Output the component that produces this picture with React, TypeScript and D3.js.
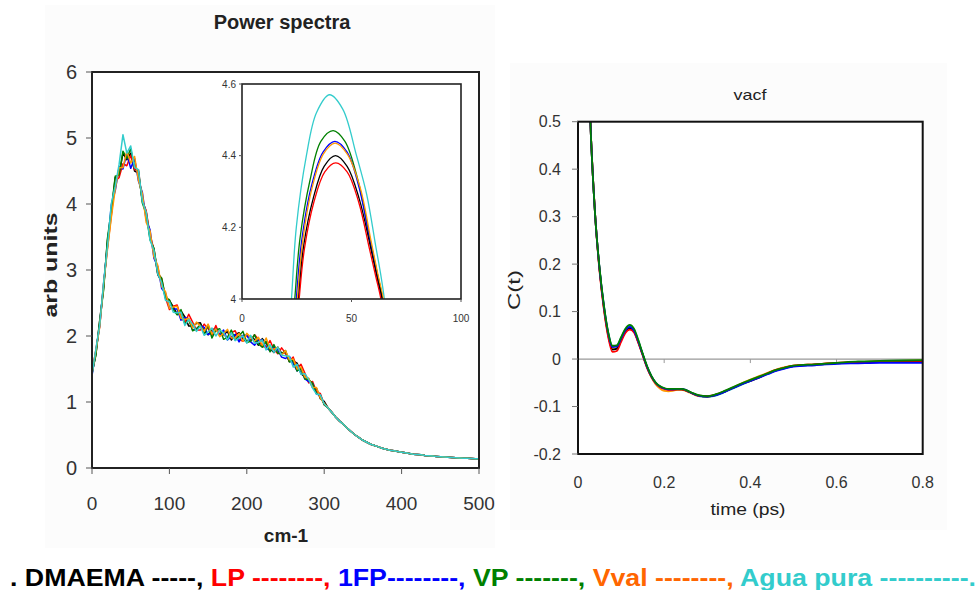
import React from 'react';
import * as d3 from 'd3';

// ---------- Series ----------
const SERIES_NAMES = ['DMAEMA', 'LP', '1FP', 'VP', 'Vval', 'Agua pura'];
const LINE_COLORS = ['#000000', '#ff0000', '#0000ff', '#008000', '#ff9900', '#33cccc'];
const LEGEND_COLORS = ['#000000', '#ff0000', '#0000ff', '#008000', '#ff6600', '#33cccc'];
const LEGEND_DASHES = ['-----,', '--------,', '--------,', '-------,', '--------,', '----------.'];

// ---------- Power spectra (main) ----------
const WAVENUMBER = d3.range(0, 501, 5);
const SPECTRUM_BASE = [
  1.43, 1.75, 2.2, 2.75, 3.4, 3.95, 4.3, 4.5, 4.65, 4.72, 4.68, 4.6, 4.4, 4.1, 3.8, 3.55, 3.25, 3.0, 2.78, 2.62,
  2.48, 2.42, 2.37, 2.31, 2.26, 2.21, 2.17, 2.14, 2.12, 2.1, 2.09, 2.07, 2.06, 2.05, 2.03, 2.02, 2.0, 1.99, 1.98, 1.97,
  1.96, 1.95, 1.94, 1.92, 1.9, 1.87, 1.84, 1.81, 1.78, 1.75, 1.71, 1.66, 1.6, 1.53, 1.47, 1.4, 1.32, 1.25, 1.17, 1.08,
  0.99, 0.91, 0.84, 0.77, 0.71, 0.66, 0.6, 0.55, 0.5, 0.46, 0.42, 0.39, 0.36, 0.34, 0.32, 0.3, 0.285, 0.27, 0.26, 0.25,
  0.24, 0.23, 0.22, 0.21, 0.205, 0.2, 0.19, 0.185, 0.18, 0.176, 0.172, 0.168, 0.164, 0.16, 0.156, 0.152, 0.149, 0.146, 0.144, 0.142,
  0.14,
];
// per-series deviations from the common curve, in hundredths (0..300 cm-1)
const DEV_DMAEMA = [0, -3, 4, -2, 5, -8, 10, -6, 12, -5, 9, -10, 7, -4, 8, -6, 5, -7, 4, -5, 6, 2, -4, 7, 3, -6, -2, 5, 8, -3, -7, 2, 6, -4, -1, 5, -6, 3, 7, -2, -5, 4, 1, -6, 6, 2, -3, -6, 5, -1, 4, -5, 2, 6, -4, -2, 3, -3, 4, -3, 2];
const DEV_LP = [2, 4, -5, 3, -6, -12, 5, -10, -4, -14, 6, -8, 12, -6, 10, -3, 7, -5, 9, -4, -8, 3, 10, -2, -6, 12, 4, -5, -3, 8, 2, -6, 10, -4, 1, -7, 5, 9, -3, -5, 6, -2, 8, 3, -6, -4, 9, -1, -5, 7, 3, -4, 8, -2, 10, 4, -3, 6, -2, 5, -3];
const DEV_1FP = [-3, 2, -4, 5, -3, 4, -10, 6, -12, 5, -14, 9, -5, 8, -4, 6, -7, 5, -6, 3, -5, -1, 4, -7, 2, 5, -8, -3, 4, 3, -7, -2, 5, -4, 6, -8, -1, 3, -7, 4, 5, -4, -8, 2, 4, -5, -6, 3, 1, -7, -5, 3, -2, -6, 4, -5, -1, 3, -5, 2, -2];
const DEV_VP = [1, -4, 3, -5, 8, -4, 12, -6, 15, -3, 16, -4, 10, -8, 5, -9, 8, -6, 10, -4, 7, -2, -5, 9, -8, 4, -9, -3, 5, -7, 8, -10, 3, 6, -8, -4, 9, -5, 2, 10, -6, -3, 8, -4, -7, 5, -8, 6, -4, -2, 7, -5, 3, -6, 4, -5, 2, 3, -4, 2, -3];
const DEV_VVAL = [0, 3, -6, 4, -9, -15, -8, 5, -10, 8, -6, 12, -4, 6, -8, 4, -5, 7, -3, 5, -6, 2, 8, -4, -1, 6, -5, 7, 3, -3, 9, -4, 5, -6, 1, 8, -3, -2, 6, -5, 8, 3, -2, 6, -4, 10, -3, -1, 5, -4, 7, -2, 5, -3, 6, -2, 4, -3, 5, -2, -1];
const DEV_AGUA = [-2, 5, -3, 6, -4, 6, -3, 10, 40, 5, 20, -5, 12, -6, 8, -10, 5, -6, 3, -8, 4, -6, -2, 5, -10, 4, 1, -7, 3, -9, -3, 5, -6, 4, 2, -8, 5, -6, -1, 3, -7, 6, -5, -2, 4, -8, 3, -6, 5, -4, -1, 3, -7, 4, -5, 3, 2, -4, -5, 3, -2];
const SPECTRUM_DEVS = [DEV_DMAEMA, DEV_LP, DEV_1FP, DEV_VP, DEV_VVAL, DEV_AGUA];
const MAIN_Y_TICKS = [0, 1, 2, 3, 4, 5, 6];
const MAIN_X_TICKS = [0, 100, 200, 300, 400, 500];

// ---------- Inset (peak zoom) ----------
const INSET_DMAEMA: [number, number][] = [[24.2, 3.88], [25.8, 4.0], [28.2, 4.15], [32.5, 4.28], [37.5, 4.37], [42.7, 4.4], [48, 4.37], [53.5, 4.28], [58.5, 4.15], [61.7, 4.06], [64, 4.0], [65.3, 3.93]];
const INSET_LP: [number, number][] = [[24.5, 3.88], [26.1, 4.0], [28.5, 4.14], [32.8, 4.27], [37.8, 4.355], [42.8, 4.38], [48, 4.355], [53.3, 4.27], [58.2, 4.14], [61.2, 4.06], [63.4, 4.0], [64.7, 3.93]];
const INSET_1FP: [number, number][] = [[23.2, 3.87], [24.8, 4.0], [27.2, 4.16], [31.5, 4.31], [37, 4.41], [42.4, 4.44], [48, 4.41], [53.5, 4.31], [58.5, 4.16], [61.5, 4.07], [63.7, 4.0], [65, 3.93]];
const INSET_VP: [number, number][] = [[22.5, 3.87], [24.1, 4.0], [26.5, 4.17], [31, 4.33], [36, 4.44], [41.6, 4.47], [47, 4.44], [53, 4.33], [58, 4.18], [61.5, 4.08], [64.2, 4.0], [65.5, 3.93]];
const INSET_VVAL: [number, number][] = [[23.7, 3.87], [25.3, 4.0], [27.7, 4.16], [32, 4.31], [37.2, 4.405], [42.5, 4.435], [48, 4.405], [54, 4.31], [59, 4.16], [62, 4.07], [64.5, 4.0], [65.8, 3.93]];
const INSET_AGUA: [number, number][] = [[21, 3.87], [22.6, 4.0], [24.8, 4.2], [29.4, 4.4], [34, 4.52], [40, 4.57], [46, 4.53], [52.3, 4.4], [57, 4.29], [61, 4.15], [63.3, 4.07], [65, 4.0], [66.3, 3.92]];
const INSET_SERIES = [INSET_DMAEMA, INSET_LP, INSET_1FP, INSET_VP, INSET_VVAL, INSET_AGUA];
const INSET_Y_TICKS = [4, 4.2, 4.4, 4.6];
const INSET_X_TICKS = [0, 50, 100];

// ---------- vacf ----------
const TIME_PS = [0, 0.01, 0.02, 0.03, 0.04, 0.05, 0.06, 0.07, 0.08, 0.09, 0.1, 0.11, 0.12, 0.13, 0.14, 0.15, 0.16, 0.17, 0.18, 0.19, 0.2, 0.21, 0.22, 0.23, 0.24, 0.25, 0.26, 0.27, 0.28, 0.3, 0.32, 0.34, 0.36, 0.38, 0.4, 0.42, 0.44, 0.46, 0.48, 0.5, 0.55, 0.6, 0.65, 0.7, 0.75, 0.8];
const VACF_DMAEMA = [1.0, 0.93, 0.72, 0.47, 0.3, 0.19, 0.11, 0.052, 0.02, 0.022, 0.04, 0.058, 0.065, 0.058, 0.036, 0.01, -0.016, -0.036, -0.05, -0.058, -0.062, -0.064, -0.064, -0.064, -0.064, -0.066, -0.07, -0.074, -0.077, -0.079, -0.076, -0.069, -0.061, -0.053, -0.046, -0.039, -0.031, -0.024, -0.019, -0.015, -0.012, -0.009, -0.007, -0.006, -0.005, -0.005];
const VACF_LP = [1.0, 0.93, 0.72, 0.47, 0.3, 0.185, 0.105, 0.047, 0.015, 0.017, 0.036, 0.055, 0.062, 0.056, 0.034, 0.008, -0.018, -0.037, -0.051, -0.059, -0.063, -0.065, -0.065, -0.064, -0.064, -0.066, -0.07, -0.074, -0.077, -0.078, -0.075, -0.068, -0.06, -0.052, -0.045, -0.038, -0.03, -0.023, -0.018, -0.014, -0.011, -0.008, -0.006, -0.005, -0.004, -0.004];
const VACF_1FP = [1.0, 0.93, 0.72, 0.47, 0.3, 0.19, 0.112, 0.055, 0.025, 0.026, 0.043, 0.061, 0.068, 0.06, 0.037, 0.01, -0.016, -0.036, -0.05, -0.058, -0.062, -0.064, -0.064, -0.063, -0.063, -0.065, -0.07, -0.074, -0.077, -0.079, -0.076, -0.069, -0.061, -0.053, -0.046, -0.039, -0.032, -0.025, -0.02, -0.016, -0.013, -0.01, -0.009, -0.008, -0.008, -0.008];
const VACF_VP = [1.0, 0.93, 0.72, 0.47, 0.3, 0.192, 0.114, 0.057, 0.028, 0.029, 0.046, 0.064, 0.072, 0.064, 0.04, 0.012, -0.014, -0.035, -0.049, -0.057, -0.061, -0.063, -0.063, -0.063, -0.063, -0.065, -0.069, -0.073, -0.076, -0.078, -0.074, -0.067, -0.059, -0.051, -0.044, -0.037, -0.03, -0.023, -0.018, -0.014, -0.011, -0.008, -0.005, -0.004, -0.003, -0.002];
const VACF_VVAL = [1.0, 0.93, 0.72, 0.47, 0.3, 0.188, 0.108, 0.05, 0.021, 0.022, 0.04, 0.059, 0.066, 0.059, 0.035, 0.009, -0.017, -0.038, -0.053, -0.062, -0.067, -0.068, -0.067, -0.065, -0.065, -0.067, -0.071, -0.075, -0.078, -0.079, -0.075, -0.068, -0.06, -0.051, -0.043, -0.036, -0.029, -0.022, -0.017, -0.014, -0.011, -0.008, -0.006, -0.005, -0.004, -0.003];
const VACF_AGUA = [1.0, 0.93, 0.72, 0.47, 0.3, 0.19, 0.113, 0.056, 0.027, 0.028, 0.045, 0.063, 0.07, 0.062, 0.039, 0.011, -0.015, -0.035, -0.05, -0.058, -0.062, -0.064, -0.064, -0.063, -0.064, -0.066, -0.07, -0.074, -0.078, -0.08, -0.077, -0.07, -0.062, -0.054, -0.046, -0.038, -0.031, -0.024, -0.018, -0.015, -0.012, -0.009, -0.007, -0.006, -0.006, -0.006];
const VACF_SERIES = [VACF_DMAEMA, VACF_LP, VACF_1FP, VACF_VP, VACF_VVAL, VACF_AGUA];
const VACF_DRAW_ORDER = [5, 4, 0, 1, 2, 3];
const VACF_Y_TICKS = [0.5, 0.4, 0.3, 0.2, 0.1, 0, -0.1, -0.2];
const VACF_X_TICKS = [0, 0.2, 0.4, 0.6, 0.8];

const FONT = "'Liberation Sans', Arial, Helvetica, sans-serif";

export default function App() {
  // main spectrum scales
  const x = d3.scaleLinear().domain([0, 500]).range([92, 479]);
  const y = d3.scaleLinear().domain([0, 6]).range([468, 72]);
  // inset scales
  const xi = d3.scaleLinear().domain([0, 100]).range([242, 461]);
  const yi = d3.scaleLinear().domain([4, 4.6]).range([299, 84]);
  // vacf scales
  const xr = d3.scaleLinear().domain([0, 0.8]).range([578, 922.7]);
  const yr = d3.scaleLinear().domain([-0.2, 0.5]).range([454, 121.7]);

  const mainLine = d3
    .line<number>()
    .x((_, i) => x(WAVENUMBER[i]))
    .y((v) => y(v));
  const spectra = SPECTRUM_DEVS.map((dev) => SPECTRUM_BASE.map((b, i) => b + (dev[i] ?? 0) / 100));

  const insetLine = d3
    .line<[number, number]>()
    .x((d) => xi(d[0]))
    .y((d) => yi(d[1]))
    .curve(d3.curveCatmullRom);

  const vacfLine = d3
    .line<number>()
    .x((_, i) => xr(TIME_PS[i]))
    .y((v) => yr(v))
    .curve(d3.curveMonotoneX);

  const fmt = (v: number) => (v === 0 ? '0' : String(v));

  return (
    <svg
      width={980}
      height={590}
      style={{ position: 'absolute', left: 0, top: 0, background: '#ffffff' }}
      fontFamily={FONT}
    >
      <defs>
        <clipPath id="clipMain">
          <rect x={x(0)} y={y(6)} width={x(500) - x(0)} height={y(0) - y(6)} />
        </clipPath>
        <clipPath id="clipInset">
          <rect x={xi(0)} y={yi(4.6)} width={xi(100) - xi(0)} height={yi(4) - yi(4.6)} />
        </clipPath>
        <clipPath id="clipVacf">
          <rect x={xr(0)} y={yr(0.5)} width={xr(0.8) - xr(0)} height={yr(-0.2) - yr(0.5)} />
        </clipPath>
      </defs>

      {/* faint panel backgrounds */}
      <rect x={45} y={5} width={450} height={543} fill="#fcfcfc" />
      <rect x={510} y={63} width={437} height={467} fill="#fcfcfc" />

      {/* ================= Power spectra ================= */}
      <text x={282} y={29} textAnchor="middle" fontSize={20} fontWeight="bold" fill="#222">
        Power spectra
      </text>
      <rect x={x(0)} y={y(6)} width={x(500) - x(0)} height={y(0) - y(6)} fill="#ffffff" />
      <g clipPath="url(#clipMain)">
        {spectra.map((s, k) => (
          <path key={k} d={mainLine(s) || ''} fill="none" stroke={LINE_COLORS[k]} strokeWidth={1.5} strokeLinejoin="round" />
        ))}
      </g>
      <rect x={x(0)} y={y(6)} width={x(500) - x(0)} height={y(0) - y(6)} fill="none" stroke="#222" strokeWidth={2} />
      {MAIN_Y_TICKS.map((t) => (
        <g key={'my' + t}>
          <line x1={x(0) - 6} x2={x(0)} y1={y(t)} y2={y(t)} stroke="#555" strokeWidth={1} />
          <text x={77} y={y(t)} dy="0.36em" textAnchor="end" fontSize={20} fill="#333">
            {t}
          </text>
        </g>
      ))}
      {MAIN_X_TICKS.map((t) => (
        <g key={'mx' + t}>
          <line x1={x(t)} x2={x(t)} y1={y(0)} y2={y(0) + 6} stroke="#555" strokeWidth={1} />
          <text x={x(t)} y={510} textAnchor="middle" fontSize={19} fill="#333">
            {t}
          </text>
        </g>
      ))}
      <text x={286} y={542} textAnchor="middle" fontSize={19} fontWeight="bold" fill="#222">
        cm-1
      </text>
      <text
        transform="translate(57,265) rotate(-90)"
        textAnchor="middle"
        fontSize={19}
        fontWeight="bold"
        fill="#222"
        textLength={105}
        lengthAdjust="spacingAndGlyphs"
      >
        arb units
      </text>

      {/* inset */}
      <rect x={xi(0)} y={yi(4.6)} width={xi(100) - xi(0)} height={yi(4) - yi(4.6)} fill="#ffffff" />
      <g clipPath="url(#clipInset)">
        {[5, 3, 2, 4, 0, 1].map((k) => (
          <path key={k} d={insetLine(INSET_SERIES[k]) || ''} fill="none" stroke={LINE_COLORS[k]} strokeWidth={1.3} />
        ))}
      </g>
      <rect x={xi(0)} y={yi(4.6)} width={xi(100) - xi(0)} height={yi(4) - yi(4.6)} fill="none" stroke="#222" strokeWidth={1.6} />
      {INSET_Y_TICKS.map((t) => (
        <g key={'iy' + t}>
          <line x1={xi(0) - 3} x2={xi(0)} y1={yi(t)} y2={yi(t)} stroke="#555" />
          <text x={236} y={yi(t)} dy="0.36em" textAnchor="end" fontSize={10} fill="#333">
            {fmt(t)}
          </text>
        </g>
      ))}
      {INSET_X_TICKS.map((t) => (
        <g key={'ix' + t}>
          <line x1={xi(t)} x2={xi(t)} y1={yi(4)} y2={yi(4) + 3} stroke="#555" />
          <text x={xi(t)} y={322} textAnchor="middle" fontSize={10} fill="#333">
            {t}
          </text>
        </g>
      ))}

      {/* ================= vacf ================= */}
      <text x={750} y={100} textAnchor="middle" fontSize={15} fill="#222" textLength={33} lengthAdjust="spacingAndGlyphs">
        vacf
      </text>
      <rect x={xr(0)} y={yr(0.5)} width={xr(0.8) - xr(0)} height={yr(-0.2) - yr(0.5)} fill="#ffffff" />
      <line x1={xr(0)} x2={xr(0.8)} y1={yr(0)} y2={yr(0)} stroke="#999" strokeWidth={1.2} />
      {VACF_X_TICKS.filter((t) => t > 0 && t < 0.8).map((t) => (
        <line key={'rt' + t} x1={xr(t)} x2={xr(t)} y1={yr(0)} y2={yr(0) + 4} stroke="#999" />
      ))}
      <g clipPath="url(#clipVacf)">
        {VACF_DRAW_ORDER.map((k) => (
          <path key={k} d={vacfLine(VACF_SERIES[k]) || ''} fill="none" stroke={LINE_COLORS[k]} strokeWidth={1.8} />
        ))}
      </g>
      <rect x={xr(0)} y={yr(0.5)} width={xr(0.8) - xr(0)} height={yr(-0.2) - yr(0.5)} fill="none" stroke="#111" strokeWidth={2} />
      {VACF_Y_TICKS.map((t) => (
        <g key={'ry' + t}>
          <line x1={xr(0) - 6} x2={xr(0)} y1={yr(t)} y2={yr(t)} stroke="#777" />
          <text x={561} y={yr(t)} dy="0.36em" textAnchor="end" fontSize={16} fill="#333">
            {fmt(t)}
          </text>
        </g>
      ))}
      {VACF_X_TICKS.map((t) => (
        <text key={'rx' + t} x={xr(t)} y={488} textAnchor="middle" fontSize={16} fill="#333">
          {fmt(t)}
        </text>
      ))}
      <text x={748} y={515} textAnchor="middle" fontSize={16} fill="#222" textLength={75} lengthAdjust="spacingAndGlyphs">
        time (ps)
      </text>
      <text
        transform="translate(520,290) rotate(-90)"
        textAnchor="middle"
        fontSize={16}
        fill="#222"
        textLength={40}
        lengthAdjust="spacingAndGlyphs"
      >
        C(t)
      </text>

      {/* ================= legend line ================= */}
      <text x={10} y={586} fontSize={24} fontWeight="bold" textLength={966} lengthAdjust="spacingAndGlyphs">
        <tspan fill="#000">. </tspan>
        {SERIES_NAMES.map((n, i) => (
          <tspan key={n} fill={LEGEND_COLORS[i]}>
            {n + (i === 2 ? '' : ' ') + LEGEND_DASHES[i] + (i < SERIES_NAMES.length - 1 ? ' ' : '')}
          </tspan>
        ))}
      </text>
    </svg>
  );
}
